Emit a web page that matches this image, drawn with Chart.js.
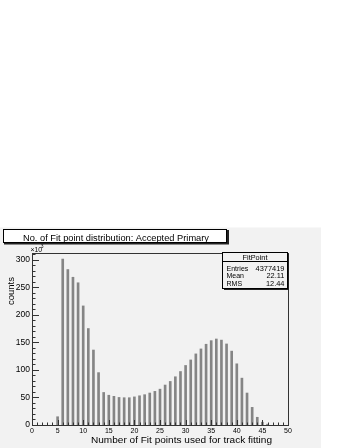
<!DOCTYPE html>
<html>
<head>
<meta charset="utf-8">
<script src="https://cdn.jsdelivr.net/npm/chart.js@4.4.1/dist/chart.umd.min.js"></script>
<style>
html,body{margin:0;padding:0;background:#fff;}
#c{display:block;}
</style>
</head>
<body>
<canvas id="c" width="346" height="448"></canvas>
<script>
// Data (counts in units of 10^3)
const fitPoints = [5,6,7,8,9,10,11,12,13,14,15,16,17,18,19,20,21,22,23,24,25,26,27,28,29,30,31,32,33,34,35,36,37,38,39,40,41,42,43,44,45,46];
const countsK = [15,301,282,268,258,216,175,136,95,59,54,52,50,49.5,49.5,51,53,55,58,61,65,72.5,79,87.5,97,108,118,129,138,146.5,153,156,154,147,134,111,85,58,32,14,5,1.5];
const xTickLabels = [0,5,10,15,20,25,30,35,40,45,50];
const yTickLabels = [0,50,100,150,200,250,300];
const titleText = "No. of Fit point distribution: Accepted Primary";
const xTitle = "Number of Fit points used for track fitting";
const yTitle = "counts";
const statsName = "FitPoint";
const statsRows = [["Entries","4377419"],["Mean","22.11"],["RMS","12.44"]];

const FONT = "'Liberation Sans', Arial, Helvetica, sans-serif";

// draw text with a given font size and optional horizontal stretch
function sText(ctx, text, x, y, size, align, sx) {
  ctx.save();
  ctx.font = size + "px " + FONT;
  ctx.translate(x, y);
  ctx.scale(sx || 1, 1);
  ctx.textAlign = align;
  ctx.textBaseline = 'alphabetic';
  ctx.fillText(text, 0, 0);
  ctx.restore();
}
function fitSx(ctx, text, size, width) {
  ctx.font = size + "px " + FONT;
  return width / ctx.measureText(text).width;
}

const decor = {
  id: 'decor',
  beforeDraw(chart) {
    const ctx = chart.ctx;
    ctx.save();
    ctx.fillStyle = '#ffffff';
    ctx.fillRect(0, 0, chart.width, chart.height);
    ctx.fillStyle = '#f2f2f2';
    ctx.fillRect(0, 227.5, 321, 220.5);
    ctx.restore();
  },
  afterDraw(chart) {
    const ctx = chart.ctx;
    const a = chart.chartArea;
    const xs = chart.scales.x, ys = chart.scales.y;
    ctx.save();
    // frame
    ctx.strokeStyle = '#333';
    ctx.lineWidth = 1;
    ctx.strokeRect(Math.round(a.left) + 0.5, Math.round(a.top) + 0.5,
                   Math.round(a.right - a.left), Math.round(a.bottom - a.top));
    // y ticks
    ctx.beginPath();
    for (let v = 0; v <= 310; v += 10) {
      const y = Math.round(ys.getPixelForValue(v)) + 0.5;
      const len = (v % 50 === 0) ? 7 : 3.5;
      ctx.moveTo(a.left, y); ctx.lineTo(a.left + len, y);
    }
    // x ticks
    for (let v = 0; v <= 50; v += 1) {
      const x = Math.round(xs.getPixelForValue(v)) + 0.5;
      const len = (v % 5 === 0) ? 5 : 2.5;
      ctx.moveTo(x, a.bottom); ctx.lineTo(x, a.bottom - len);
    }
    ctx.stroke();

    ctx.fillStyle = '#000';
    // x10^3
    sText(ctx, "\u00d710", 30.5, 251.5, 6.5, 'left', 1.05);
    sText(ctx, "3", 40.8, 247.6, 5, 'left', 1);

    // y title
    ctx.save();
    ctx.translate(14, 291);
    ctx.rotate(-Math.PI / 2);
    ctx.font = "9.5px " + FONT;
    ctx.textAlign = 'center';
    ctx.fillText(yTitle, 0, 0);
    ctx.restore();

    // x title
    sText(ctx, xTitle, 272, 443, 8.6, 'right', fitSx(ctx, xTitle, 8.6, 181));

    // title box
    ctx.fillStyle = '#222';
    ctx.fillRect(4, 230, 225, 14.5);
    ctx.fillStyle = '#fff';
    ctx.fillRect(3, 229, 224, 13.5);
    ctx.strokeStyle = '#000';
    ctx.strokeRect(3.5, 229.5, 223, 13);
    ctx.fillStyle = '#000';
    sText(ctx, titleText, 116, 240.8, 9.6, 'center', fitSx(ctx, titleText, 9.6, 186));

    // stats box
    ctx.fillStyle = '#222';
    ctx.fillRect(224, 254, 65, 36);
    ctx.fillStyle = '#f2f2f2';
    ctx.fillRect(222.5, 252.5, 65, 36);
    ctx.strokeStyle = '#000';
    ctx.strokeRect(222.5, 252.5, 65, 36);
    ctx.beginPath();
    ctx.moveTo(222.5, 261.5); ctx.lineTo(287.5, 261.5);
    ctx.stroke();
    ctx.fillStyle = '#000';
    sText(ctx, statsName, 255, 260, 7, 'center', 1.05);
    const base = [270.8, 278.2, 285.6];
    statsRows.forEach((r, i) => {
      sText(ctx, r[0], 226.5, base[i], 7, 'left', 1);
      sText(ctx, r[1], 284.5, base[i], 7, 'right', 1.06);
    });
    ctx.restore();
  }
};

new Chart(document.getElementById('c'), {
  type: 'bar',
  data: {
    datasets: [{
      data: fitPoints.map((x, i) => ({ x: x, y: countsK[i] })),
      backgroundColor: '#858585',
      borderWidth: 0,
      barThickness: 2
    }]
  },
  options: {
    responsive: false,
    animation: false,
    devicePixelRatio: 1,
    layout: { padding: { left: 0, top: 253, right: 58, bottom: 0 } },
    plugins: { legend: { display: false }, tooltip: { enabled: false }, title: { display: false } },
    scales: {
      x: {
        type: 'linear',
        min: 0, max: 50,
        offset: false,
        grid: { display: false, drawTicks: false },
        border: { display: false },
        afterBuildTicks(s) { s.ticks = xTickLabels.map(v => ({ value: v })); },
        afterFit(s) { s.height = 23; },
        ticks: {
          autoSkip: false,
          maxRotation: 0,
          padding: 2,
          color: '#000',
          font: { family: FONT, size: 7 },
          callback: (v) => String(v)
        }
      },
      y: {
        type: 'linear',
        min: 0, max: 312,
        grid: { display: false, drawTicks: false },
        border: { display: false },
        afterBuildTicks(s) { s.ticks = yTickLabels.map(v => ({ value: v })); },
        afterFit(s) { s.width = 32; },
        ticks: {
          padding: 2,
          color: '#000',
          font: { family: FONT, size: 8.5 },
          callback: (v) => String(v)
        }
      }
    }
  },
  plugins: [decor]
});
</script>
</body>
</html>
